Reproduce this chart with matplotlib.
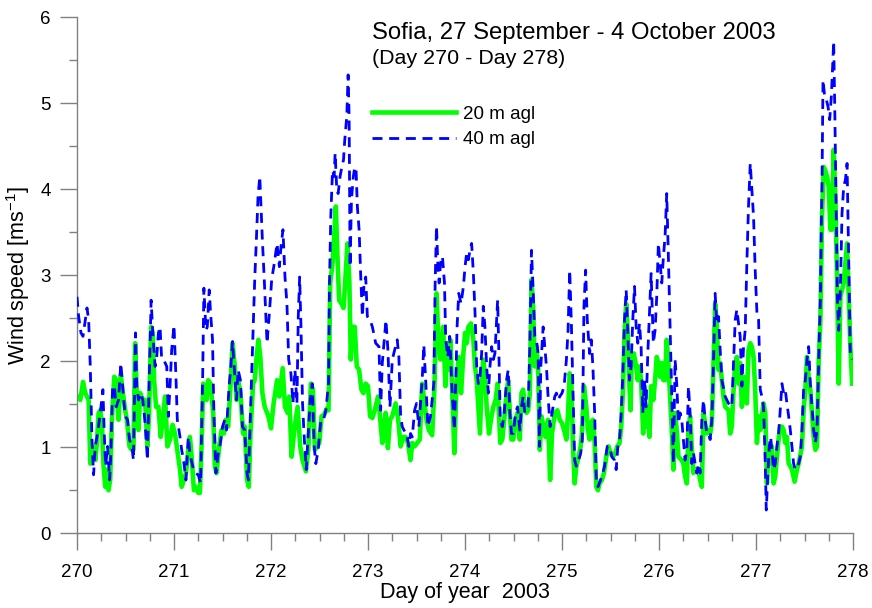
import numpy as np
import matplotlib.pyplot as plt
from matplotlib.ticker import MultipleLocator

plt.rcParams['font.family'] = ['Liberation Sans', 'DejaVu Sans']

# 20 m agl (day of year, wind speed m/s)
t20 = [270.000, 270.017, 270.034, 270.062, 270.086, 270.120, 270.137, 270.164, 270.178, 270.188,
       270.205, 270.223, 270.240, 270.257, 270.274, 270.291, 270.308, 270.325, 270.342, 270.360,
       270.384, 270.404, 270.428, 270.452, 270.473, 270.497, 270.514, 270.541, 270.565, 270.582,
       270.599, 270.616, 270.634, 270.651, 270.678, 270.702, 270.726, 270.743, 270.764, 270.781,
       270.795, 270.815, 270.839, 270.863, 270.884, 270.908, 270.932, 270.959, 270.986, 271.010,
       271.034, 271.062, 271.079, 271.103, 271.123, 271.147, 271.164, 271.182, 271.205, 271.226,
       271.250, 271.267, 271.284, 271.301, 271.318, 271.336, 271.353, 271.377, 271.404, 271.421,
       271.438, 271.466, 271.490, 271.514, 271.534, 271.558, 271.582, 271.603, 271.627, 271.644,
       271.661, 271.685, 271.712, 271.729, 271.753, 271.771, 271.788, 271.815, 271.832, 271.849,
       271.870, 271.890, 271.911, 271.935, 271.973,
       272.000, 272.027, 272.062, 272.086, 272.120, 272.144, 272.171, 272.188, 272.212, 272.240,
       272.274, 272.301, 272.325, 272.360, 272.384, 272.411, 272.432, 272.452, 272.479, 272.497,
       272.521, 272.548, 272.575, 272.593, 272.610, 272.634, 272.651, 272.668, 272.685, 272.702,
       272.726, 272.747, 272.764, 272.788, 272.808, 272.822, 272.839, 272.863, 272.884, 272.908,
       272.932, 272.952, 272.976, 273.000, 273.021, 273.045, 273.069, 273.103, 273.123, 273.147,
       273.164, 273.182, 273.205, 273.226, 273.250, 273.284, 273.308, 273.336, 273.363, 273.387,
       273.411, 273.438, 273.456, 273.480, 273.507, 273.534, 273.558, 273.575, 273.603, 273.627,
       273.661, 273.685, 273.706, 273.726, 273.747, 273.774, 273.798, 273.815, 273.832, 273.849,
       273.877, 273.890, 273.911, 273.935, 273.959, 273.983,
       274.000, 274.017, 274.034, 274.062, 274.086, 274.103, 274.120, 274.137, 274.154, 274.171,
       274.188, 274.205, 274.223, 274.247, 274.267, 274.291, 274.315, 274.336, 274.349, 274.363,
       274.384, 274.404, 274.428, 274.445, 274.462, 274.479, 274.497, 274.521, 274.541, 274.565,
       274.582, 274.599, 274.616, 274.634, 274.651, 274.668, 274.685, 274.702, 274.719, 274.736,
       274.753, 274.771, 274.788, 274.808, 274.829, 274.856, 274.877, 274.897, 274.925, 274.952,
       274.976, 275.000, 275.021, 275.045, 275.062, 275.079, 275.096, 275.113, 275.130, 275.147,
       275.171, 275.192, 275.205, 275.226, 275.250, 275.267, 275.284, 275.301, 275.318, 275.336,
       275.353, 275.370, 275.387, 275.411, 275.432, 275.456, 275.480, 275.500, 275.524, 275.548,
       275.569, 275.593, 275.610, 275.627, 275.644, 275.661, 275.678, 275.695, 275.706, 275.719,
       275.740, 275.764, 275.781, 275.798, 275.815, 275.836, 275.849, 275.866, 275.884, 275.901,
       275.918, 275.941, 275.959, 275.976, 275.993,
       276.010, 276.028, 276.045, 276.062, 276.079, 276.096, 276.114, 276.131, 276.148, 276.165,
       276.182, 276.200, 276.234, 276.251, 276.268, 276.286, 276.303, 276.320, 276.337, 276.355,
       276.372, 276.406, 276.423, 276.441, 276.458, 276.475, 276.492, 276.509, 276.527, 276.544,
       276.561, 276.578, 276.595, 276.613, 276.630, 276.647, 276.664, 276.682, 276.716, 276.733,
       276.750, 276.768, 276.785, 276.802, 276.819, 276.836, 276.854, 276.871, 276.888, 276.905,
       276.922, 276.940, 276.957, 276.974, 276.991, 277.009, 277.026, 277.043, 277.060, 277.077,
       277.095, 277.112, 277.129, 277.146, 277.163, 277.181, 277.198, 277.215, 277.232, 277.249,
       277.267, 277.284, 277.301, 277.318, 277.336, 277.353, 277.370, 277.397, 277.421, 277.439,
       277.473, 277.490, 277.508, 277.525, 277.542, 277.559, 277.576, 277.594, 277.611, 277.628,
       277.645, 277.663, 277.680, 277.697, 277.714, 277.731, 277.749, 277.766, 277.783, 277.800,
       277.817, 277.835, 277.852, 277.869, 277.886, 277.903, 277.921, 277.938, 277.955, 277.972,
       277.990]
v20 = [1.57, 1.59, 1.55, 1.76, 1.63, 1.55, 0.81, 0.89, 1.01, 0.85,
       1.05, 1.40, 1.43, 1.28, 0.78, 0.54, 0.74, 0.50, 0.62, 1.32,
       1.82, 1.78, 1.32, 1.84, 1.63, 1.43, 1.32, 1.01, 0.97, 0.97,
       2.21, 1.63, 1.20, 1.63, 1.55, 1.55, 1.01, 1.40, 2.40, 2.33,
       1.78, 1.47, 1.47, 1.12, 1.32, 1.59, 1.01, 1.09, 1.26, 1.16,
       0.97, 0.74, 0.54, 0.62, 0.70, 0.97, 1.12, 0.89, 0.50, 0.54,
       0.47, 0.47, 1.01, 1.74, 1.63, 1.55, 1.78, 1.74, 1.40, 0.78,
       0.70, 1.01, 1.20, 1.16, 1.32, 1.24, 1.71, 2.21, 1.94, 1.55,
       1.78, 1.63, 1.16, 1.24, 0.62, 0.54, 1.16, 1.74, 1.78, 2.02,
       2.25, 2.05, 1.63, 1.47, 1.36,
       1.22, 1.51, 1.78, 1.59, 1.92, 1.47, 1.40, 1.59, 0.89, 1.20,
       1.47, 1.01, 0.85, 0.72, 0.97, 1.74, 1.67, 0.97, 1.01, 1.05,
       1.36, 1.38, 1.45, 1.43, 2.91, 3.14, 3.45, 3.80, 3.22, 2.71,
       2.67, 2.62, 2.91, 3.37, 2.91, 2.02, 2.40, 2.40, 1.94, 1.90,
       1.67, 1.63, 1.74, 1.71, 1.36, 1.34, 1.43, 1.59, 1.36, 1.05,
       1.24, 1.40, 0.99, 1.32, 1.36, 1.51, 1.36, 1.01, 1.12, 1.12,
       1.05, 0.85, 1.05, 1.01, 1.05, 1.09, 1.74, 1.59, 1.32, 1.20,
       1.14, 1.71, 2.79, 2.21, 2.02, 2.40, 1.71, 2.21, 1.90, 2.25,
       1.36, 0.93, 1.74, 2.05, 1.63, 2.09,
       2.33, 2.21, 2.40, 2.44, 2.25, 1.94, 1.78, 1.47, 1.16, 1.78,
       2.02, 1.86, 1.47, 1.16, 1.32, 1.47, 1.55, 1.74, 1.40, 1.05,
       1.09, 1.32, 1.63, 1.78, 1.40, 1.09, 1.09, 1.32, 1.40, 1.09,
       1.63, 1.67, 1.47, 1.40, 1.43, 1.63, 2.95, 2.64, 1.94, 2.17,
       1.94, 0.97, 1.36, 1.24, 1.12, 1.32, 0.62, 1.16, 1.40, 1.43,
       1.32, 1.28, 1.20, 1.09, 1.40, 1.86, 1.78, 1.01, 0.58, 0.78,
       0.89, 1.01, 1.16, 1.71, 1.47, 1.20, 1.09, 1.28, 1.32, 1.05,
       0.54, 0.50, 0.58, 0.62, 0.70, 0.89, 1.01, 0.93, 0.89, 0.93,
       1.01, 1.05, 1.24, 1.63, 2.33, 2.67, 2.33, 1.71, 1.43, 2.09,
       2.09, 1.94, 1.78, 1.94, 1.78, 1.16, 1.71, 1.24, 1.47, 1.12,
       1.71, 1.55, 1.78, 2.05, 1.98,
       1.82, 1.98, 1.78, 1.78, 2.25, 1.98, 1.59, 1.20, 0.74, 1.40,
       1.20, 0.89, 0.85, 0.81, 0.66, 0.58, 1.20, 1.36, 1.01, 0.70,
       0.74, 0.74, 0.62, 0.54, 1.40, 1.28, 1.16, 1.20, 1.16, 1.28,
       1.98, 2.67, 2.44, 1.90, 1.98, 1.78, 1.59, 1.47, 1.43, 1.16,
       1.24, 1.67, 1.98, 2.05, 1.74, 1.98, 1.47, 1.82, 1.74, 1.51,
       2.13, 2.21, 2.17, 2.05, 1.67, 1.05, 1.36, 1.20, 1.36, 1.51,
       1.40, 0.58, 1.01, 0.81, 1.01, 0.58, 0.66, 0.89, 1.09, 1.24,
       1.24, 1.20, 1.05, 1.12, 0.81, 0.78, 0.74, 0.60, 0.74, 0.81,
       1.01, 1.43, 1.67, 2.05, 1.82, 1.67, 1.40, 1.12, 0.97, 1.01,
       1.98, 2.48, 3.68, 4.26, 4.22, 4.15, 4.03, 3.53, 3.53, 4.46,
       3.91, 2.95, 1.74, 2.75, 2.83, 2.91, 3.14, 3.37, 2.75, 2.17,
       1.74]

# 40 m agl
t40 = [270.000, 270.017, 270.041, 270.062, 270.086, 270.103, 270.120, 270.137, 270.154, 270.171,
       270.188, 270.212, 270.240, 270.267, 270.281, 270.295, 270.315, 270.336, 270.349, 270.366,
       270.384, 270.404, 270.428, 270.452, 270.473, 270.497, 270.521, 270.541, 270.565, 270.582,
       270.603, 270.616, 270.634, 270.658, 270.678, 270.702, 270.726, 270.743, 270.764, 270.781,
       270.805, 270.822, 270.839, 270.856, 270.873, 270.901, 270.925, 270.942, 270.959, 270.976,
       271.000, 271.021, 271.034, 271.062, 271.079, 271.103, 271.123, 271.147, 271.164, 271.192,
       271.216, 271.250, 271.274, 271.295, 271.308, 271.329, 271.343, 271.363, 271.377, 271.397,
       271.411, 271.432, 271.456, 271.473, 271.500, 271.524, 271.541, 271.568, 271.586, 271.603,
       271.627, 271.644, 271.661, 271.685, 271.705, 271.729, 271.753, 271.767, 271.788, 271.815,
       271.832, 271.849, 271.866, 271.884, 271.911, 271.932, 271.959, 271.983,
       272.007, 272.034, 272.062, 272.086, 272.103, 272.123, 272.144, 272.164, 272.182, 272.205,
       272.226, 272.247, 272.267, 272.281, 272.295, 272.308, 272.325, 272.342, 272.363, 272.384,
       272.404, 272.425, 272.445, 272.462, 272.486, 272.514, 272.541, 272.565, 272.593, 272.603,
       272.616, 272.634, 272.651, 272.661, 272.678, 272.692, 272.712, 272.730, 272.747, 272.760,
       272.781, 272.795, 272.805, 272.815, 272.829, 272.849, 272.863, 272.877, 272.890, 272.908,
       272.925, 272.942, 272.959, 272.976, 272.993, 273.021, 273.045, 273.079, 273.113, 273.130,
       273.147, 273.164, 273.185, 273.205, 273.226, 273.250, 273.274, 273.301, 273.318, 273.336,
       273.353, 273.370, 273.397, 273.421, 273.438, 273.456, 273.480, 273.500, 273.524, 273.541,
       273.558, 273.575, 273.596, 273.617, 273.644, 273.678, 273.692, 273.706, 273.719, 273.733,
       273.747, 273.767, 273.788, 273.801, 273.822, 273.842, 273.866, 273.890, 273.904, 273.918,
       273.935, 273.959, 273.983,
       274.000, 274.017, 274.034, 274.051, 274.068, 274.086, 274.103, 274.120, 274.137, 274.154,
       274.171, 274.188, 274.205, 274.223, 274.240, 274.257, 274.274, 274.291, 274.308, 274.325,
       274.336, 274.349, 274.363, 274.384, 274.404, 274.428, 274.445, 274.462, 274.479, 274.497,
       274.521, 274.541, 274.565, 274.582, 274.599, 274.616, 274.634, 274.651, 274.668, 274.685,
       274.702, 274.719, 274.736, 274.753, 274.767, 274.781, 274.805, 274.822, 274.839, 274.856,
       274.877, 274.897, 274.925, 274.942, 274.959, 274.976, 275.000, 275.021, 275.045, 275.062,
       275.079, 275.096, 275.113, 275.130, 275.147, 275.171, 275.192, 275.209, 275.226, 275.243,
       275.260, 275.284, 275.301, 275.318, 275.336, 275.353, 275.370, 275.397, 275.421, 275.438,
       275.466, 275.490, 275.514, 275.541, 275.558, 275.575, 275.593, 275.610, 275.627, 275.644,
       275.661, 275.678, 275.695, 275.712, 275.729, 275.747, 275.764, 275.781, 275.798, 275.815,
       275.832, 275.849, 275.866, 275.884, 275.901, 275.918, 275.941, 275.959, 275.976, 275.993,
       276.010, 276.028, 276.045, 276.062, 276.079, 276.096, 276.114, 276.131, 276.148, 276.165,
       276.182, 276.200, 276.217, 276.234, 276.251, 276.268, 276.286, 276.303, 276.320, 276.337,
       276.355, 276.372, 276.389, 276.406, 276.423, 276.441, 276.458, 276.475, 276.492, 276.509,
       276.527, 276.544, 276.561, 276.578, 276.595, 276.613, 276.630, 276.647, 276.682, 276.716,
       276.750, 276.768, 276.785, 276.802, 276.819, 276.836, 276.854, 276.871, 276.888, 276.905,
       276.922, 276.940, 276.957, 276.974, 276.991, 277.009, 277.026, 277.043, 277.060, 277.077,
       277.095, 277.105, 277.122, 277.136, 277.150, 277.163, 277.181, 277.198, 277.215, 277.232,
       277.249, 277.267, 277.284, 277.301, 277.318, 277.336, 277.353, 277.370, 277.387, 277.404,
       277.439, 277.456, 277.473, 277.490, 277.508, 277.525, 277.542, 277.559, 277.576, 277.594,
       277.611, 277.628, 277.645, 277.663, 277.680, 277.690, 277.707, 277.725, 277.742, 277.759,
       277.776, 277.790, 277.800, 277.811, 277.824, 277.838, 277.852, 277.869, 277.886, 277.903,
       277.921, 277.938, 277.955, 277.972, 277.990]
v40 = [2.75, 2.52, 2.33, 2.29, 2.48, 2.62, 2.48, 1.94, 1.09, 0.68,
       1.01, 1.16, 1.40, 1.67, 1.16, 0.78, 1.01, 0.62, 0.93, 1.67,
       1.72, 1.47, 1.55, 1.98, 1.67, 1.36, 1.32, 1.09, 1.01, 0.85,
       2.33, 1.71, 1.55, 1.63, 1.55, 1.28, 0.85, 1.71, 2.71, 2.33,
       1.94, 2.05, 2.33, 2.40, 2.02, 2.00, 1.94, 1.36, 1.71, 2.13,
       2.42, 1.78, 1.32, 1.12, 0.97, 0.81, 0.62, 1.12, 0.93, 0.78,
       0.70, 0.68, 0.58, 1.78, 2.85, 2.36, 2.40, 2.83, 2.56, 2.25,
       1.40, 0.70, 0.93, 1.01, 1.24, 1.32, 1.20, 1.71, 1.94, 2.23,
       1.82, 1.55, 1.90, 1.78, 1.24, 1.20, 0.70, 0.62, 1.40, 2.33,
       2.95, 3.41, 3.91, 4.15, 3.41, 2.91, 2.21, 2.56,
       2.95, 3.14, 3.37, 3.10, 3.33, 3.53, 2.98, 2.67, 2.02, 1.86,
       1.51, 1.90, 1.51, 2.52, 2.98, 2.44, 1.51, 1.12, 0.74, 1.16,
       1.55, 1.74, 1.01, 0.81, 0.97, 1.32, 1.32, 1.43, 1.74, 2.91,
       3.68, 4.22, 4.15, 4.42, 3.99, 3.95, 4.15, 4.26, 4.34, 4.57,
       4.85, 5.33, 4.85, 3.10, 3.88, 4.15, 4.26, 4.22, 3.80, 3.53,
       2.98, 2.52, 2.91, 2.98, 2.52, 2.48, 2.40, 2.21, 2.17, 1.43,
       1.98, 2.21, 2.48, 2.13, 1.47, 2.02, 2.13, 2.25, 2.05, 1.36,
       1.24, 1.20, 1.16, 1.01, 1.16, 1.12, 1.43, 1.51, 1.24, 1.51,
       1.78, 2.19, 1.74, 1.24, 1.36, 1.74, 2.91, 3.57, 3.14, 2.91,
       3.14, 3.22, 2.91, 2.25, 2.05, 2.29, 1.67, 1.20, 1.74, 2.40,
       2.79, 2.67, 2.87,
       3.10, 3.26, 3.18, 3.29, 3.37, 3.02, 2.56, 1.94, 1.74, 1.82,
       2.09, 2.64, 2.40, 1.94, 1.63, 1.94, 2.17, 2.02, 2.09, 2.48,
       2.71, 2.09, 1.32, 1.24, 1.40, 1.78, 1.90, 1.40, 1.16, 1.16,
       1.40, 1.47, 1.20, 1.47, 1.59, 1.40, 1.43, 1.47, 2.17, 3.29,
       2.83, 2.29, 2.25, 2.09, 1.01, 1.94, 2.40, 2.17, 1.94, 1.59,
       1.24, 1.40, 1.59, 1.63, 1.55, 1.59, 1.63, 1.71, 2.02, 2.36,
       3.06, 2.44, 1.63, 0.85, 0.78, 0.85, 0.93, 1.09, 2.64, 3.06,
       2.48, 2.09, 2.25, 1.94, 1.40, 0.62, 0.54, 0.62, 0.70, 0.78,
       1.01, 1.01, 0.89, 0.85, 0.74, 1.01, 1.09, 1.40, 1.86, 2.48,
       2.83, 2.33, 1.78, 1.94, 2.48, 2.87, 2.40, 2.21, 2.44, 2.17,
       1.40, 1.78, 1.47, 2.09, 2.56, 3.02, 2.21, 2.36, 2.75, 3.37,
       3.14, 2.91, 3.22, 3.45, 3.95, 3.22, 2.36, 1.59, 0.81, 2.02,
       1.74, 1.28, 1.40, 1.32, 1.09, 0.85, 0.97, 1.71, 1.40, 0.81,
       0.93, 0.81, 0.70, 0.81, 0.70, 1.32, 1.55, 1.32, 1.16, 1.16,
       1.09, 1.32, 1.98, 2.79, 2.44, 2.52, 2.13, 1.78, 1.59, 1.51,
       1.47, 1.98, 2.48, 2.60, 2.44, 2.29, 1.71, 2.17, 2.36, 3.14,
       3.80, 4.30, 3.99, 3.68, 3.06, 2.56, 2.48, 1.67, 1.59, 1.47,
       0.81, 0.27, 0.70, 1.01, 1.12, 0.97, 0.74, 0.81, 1.01, 1.16,
       1.43, 1.74, 1.63, 1.67, 1.51, 1.36, 1.20, 1.01, 0.81, 0.74,
       0.81, 0.89, 1.20, 1.67, 1.78, 2.02, 2.17, 1.74, 1.47, 1.20,
       1.05, 1.20, 1.98, 2.75, 4.11, 5.27, 5.08, 5.04, 4.96, 4.81,
       5.08, 5.47, 5.72, 4.96, 3.91, 2.75, 2.36, 2.83, 3.72, 4.03,
       4.11, 4.30, 3.14, 2.05, 2.02]

fig = plt.figure(figsize=(8.72, 6.08), dpi=100)
ax = fig.add_axes([0.0883, 0.1229, 0.890, 0.8487])

ax.plot(t20, v20, color='#00ff00', lw=3.3, label='20 m agl', zorder=2)
ax.plot(t40, v40, color='#0000ff', lw=2.0, ls=(0, (3.6, 2.4)), label='40 m agl', zorder=3)

ax.set_xlim(270, 278)
ax.set_ylim(0, 6)
ax.xaxis.set_major_locator(MultipleLocator(1))
ax.xaxis.set_minor_locator(MultipleLocator(0.25))
ax.yaxis.set_major_locator(MultipleLocator(1))
ax.yaxis.set_minor_locator(MultipleLocator(0.5))
for s in ['top', 'right']:
    ax.spines[s].set_visible(False)
for s in ['left', 'bottom']:
    ax.spines[s].set_color('#808080')
    ax.spines[s].set_linewidth(1.0)
ax.tick_params(which='major', direction='out', length=12, width=1.0, color='#808080',
               labelsize=13.5, labelcolor='black')
ax.tick_params(which='minor', direction='out', length=6, width=1.0, color='#808080')
ax.tick_params(axis='x', which='major', pad=10)
ax.tick_params(axis='y', which='major', pad=7)

ax.set_xlabel('Day of year  2003', fontsize=15.5, labelpad=1)
ax.set_ylabel('Wind speed [ms$^{\\mathregular{-1}}$]', fontsize=15.5, labelpad=6)

ax.text(0.380, 0.9696, 'Sofia, 27 September - 4 October 2003', transform=ax.transAxes,
        fontsize=17.2, va='center', ha='left')
ax.text(0.380, 0.921, '(Day 270 - Day 278)', transform=ax.transAxes,
        fontsize=15.4, va='center', ha='left')

ax.legend(loc='upper left', bbox_to_anchor=(0.370, 0.8436), frameon=False, fontsize=13.5,
          handlelength=4.5, handletextpad=0.37, labelspacing=0.45, borderaxespad=0)

fig.savefig('out.png', dpi=100)
